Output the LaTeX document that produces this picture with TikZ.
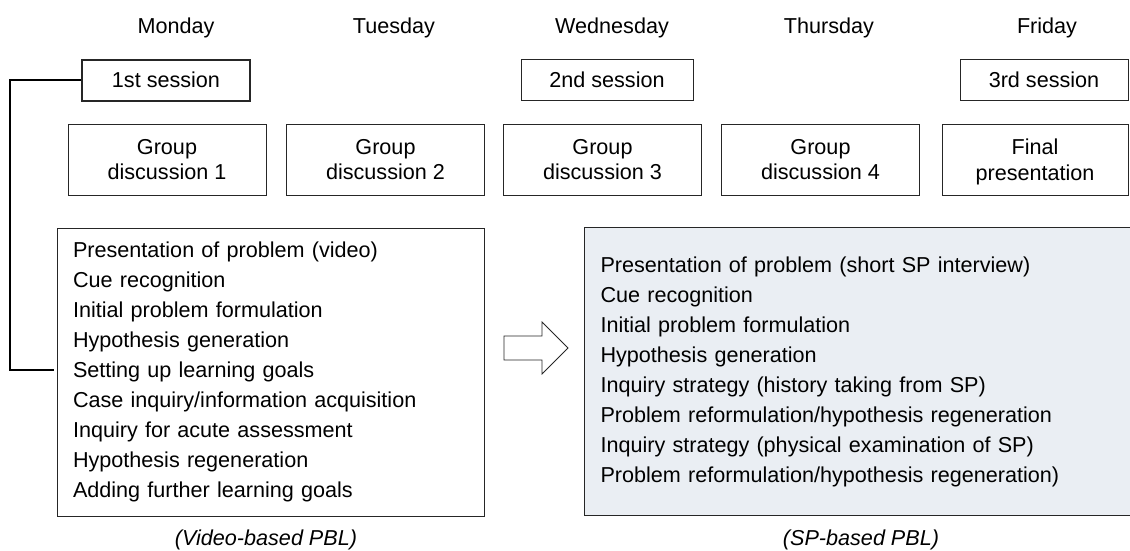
\documentclass[tikz,border=0pt]{standalone}
\usepackage{fontspec}
\setmainfont{Liberation Sans}
\definecolor{panelfill}{HTML}{EAEEF3}
\begin{document}
\begin{tikzpicture}[x=1pt,y=-1pt,
    txt/.style={font={\fontsize{21.6}{25.5}\selectfont},inner sep=0pt},
    box/.style={txt,draw=black!85,line width=1pt,align=center,minimum height=41pt},
    gbox/.style={box,text depth=0pt,minimum height=71pt},
    panel/.style={draw=black!85,line width=1pt,align=left,inner sep=0pt,
      font={\fontsize{21.6}{30}\selectfont},minimum height=288pt}]
    \useasboundingbox (0,0) rectangle (1130,550);
    \foreach\d/\x in {Monday/176,Tuesday/394,Wednesday/612,Thursday/829,Friday/1047}
    \node[txt] (\d) at (\x,28) {\d};
    \node[box,line width=2pt,minimum width=168pt] (s1) at (166,80) {1st session};
    \node[box,minimum width=172pt] (s2) at (607,80) {2nd session};
    \node[box,minimum width=168pt] (s3) at (1044,80) {3rd session};
    \foreach\i/\x in {1/167,2/385.5,3/602.5,4/820.5}
    \node[gbox,minimum width=198pt] (gd\i) at (\x,159.5) {Group\\discussion \i};
    \node[gbox,minimum width=186pt] (fp) at (1035,159.5) {Final\\presentation};
    \node[panel,minimum width=427pt,text width=395pt] (video) at (270.5,372) {%
      Presentation of problem (video)\\
      Cue recognition\\
      Initial problem formulation\\
      Hypothesis generation\\
      Setting up learning goals\\
      Case inquiry/information acquisition\\
      Inquiry for acute assessment\\
      Hypothesis regeneration\\
      Adding further learning goals};
    \node[panel,fill=panelfill,minimum width=547pt,text width=515pt] (sp) at (858,371.7) {%
      Presentation of problem (short SP interview)\\
      Cue recognition\\
      Initial problem formulation\\
      Hypothesis generation\\
      Inquiry strategy (history taking from SP)\\
      Problem reformulation/hypothesis regeneration\\
      Inquiry strategy (physical examination of SP)\\
      Problem reformulation/hypothesis regeneration)};
    \node[txt,font={\fontsize{21.6}{25.5}\selectfont\itshape}] (vcap) at (266,540) {(Video-based PBL)};
    \node[txt,font={\fontsize{21.6}{25.5}\selectfont\itshape}] (spcap) at (861,540) {(SP-based PBL)};
    \coordinate (hook) at (54,370);
    \draw[line width=1.5pt] (s1.west) -- ++(-71,0) |- (hook);
    \draw[black!85,line width=0.8pt,line join=miter]
      (504,336) -- (542,336) -- (542,322) -- (568,348) -- (542,374) -- (542,360) -- (504,360) -- cycle;
\end{tikzpicture}
\end{document}
